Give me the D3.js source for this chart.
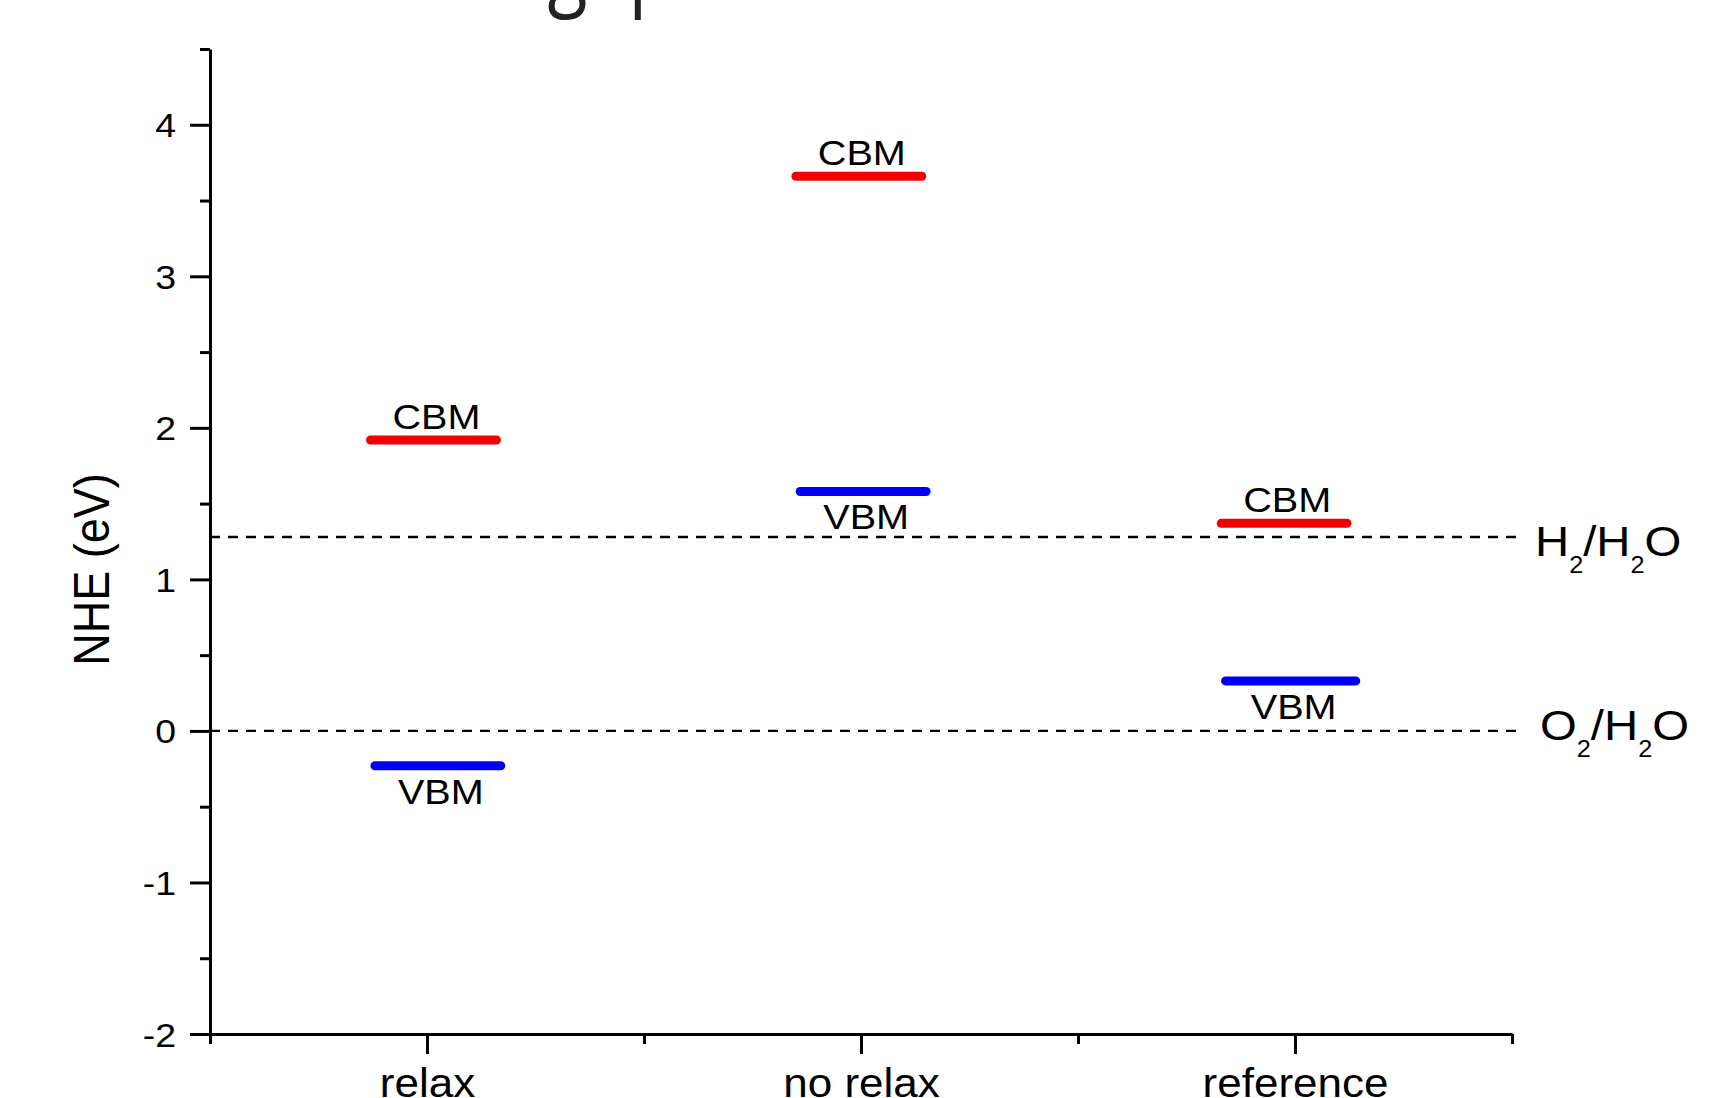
<!DOCTYPE html>
<html>
<head>
<meta charset="utf-8">
<script src="https://cdn.jsdelivr.net/npm/d3@7"></script>
<style>
  html, body { margin: 0; padding: 0; background: #fff; }
  svg { display: block; }
  text { font-family: "Liberation Sans", Arial, sans-serif; fill: #000; }
</style>
</head>
<body>
<svg id="chart" width="1718" height="1098"></svg>
<script>
// Band-edge positions (eV vs NHE) for each structure
const categories = ["relax", "no relax", "reference"];
const cbmValues = [1.92, 3.66, 1.37];
const vbmValues = [-0.23, 1.58, 0.33];
// horizontal extent of each level, in category-axis units
const cbmSpans = [[0.37, 0.66], [1.35, 1.64], [2.33, 2.62]];
const vbmSpans = [[0.38, 0.67], [1.36, 1.65], [2.34, 2.64]];
// water redox potentials
const redoxNames = [["H", "2", "/H", "2", "O"], ["O", "2", "/H", "2", "O"]];
const redoxValues = [1.28, 0];
// axis ticks
const yMajorTicks = [-2, -1, 0, 1, 2, 3, 4];
const yMinorTicks = [-1.5, -0.5, 0.5, 1.5, 2.5, 3.5, 4.5];
const xMajorTicks = [0.5, 1.5, 2.5];
const xMinorTicks = [0, 1, 2, 3];

const svg = d3.select("#chart");
const SX = 1.1; // slight horizontal stretch of all lettering

const x = d3.scaleLinear().domain([0, 3]).range([210, 1512]);
const y = d3.scaleLinear().domain([-2, 4.5]).range([1034, 49]);

function stretchText(sel, tx, ty, extra) {
  sel.attr("x", 0).attr("y", 0).attr("dy", null)
     .attr("transform", `translate(${tx},${ty}) scale(${SX},1)` + (extra || ""));
}

// page title (runs off the top edge)
svg.append("text")
  .attr("transform", "translate(-25,-2) scale(0.8,1)")
  .style("font-family", "'Open Sans', sans-serif")
  .style("font-size", "92px")
  .style("fill", "#222")
  .text("Calculated band gap");

// y axis
const yAxisMinor = svg.append("g").attr("transform", `translate(${x(0)},0)`)
  .call(d3.axisLeft(y).tickValues(yMinorTicks).tickSize(10).tickSizeOuter(0).tickFormat(""));
yAxisMinor.select(".domain").remove();

const yAxis = svg.append("g").attr("transform", `translate(${x(0)},0)`)
  .call(d3.axisLeft(y).tickValues(yMajorTicks).tickSize(20).tickSizeOuter(0).tickFormat(d => String(d)));
yAxis.selectAll(".tick text")
  .attr("text-anchor", "end")
  .style("font-size", "34px")
  .each(function() {
    stretchText(d3.select(this), -34, 12);
  });

// x axis
const xAxisMinor = svg.append("g").attr("transform", `translate(0,${y(-2)})`)
  .call(d3.axisBottom(x).tickValues(xMinorTicks).tickSize(10).tickSizeOuter(0).tickFormat(""));
xAxisMinor.select(".domain").remove();

const xAxis = svg.append("g").attr("transform", `translate(0,${y(-2)})`)
  .call(d3.axisBottom(x).tickValues(xMajorTicks).tickSize(20).tickSizeOuter(0)
    .tickFormat((d, i) => categories[i]));
xAxis.selectAll(".tick text")
  .attr("text-anchor", "middle")
  .style("font-size", "40px")
  .each(function() {
    stretchText(d3.select(this), 0, 63);
  });

svg.selectAll(".domain, .tick line")
  .attr("stroke", "#000")
  .attr("stroke-width", 3);

// y axis title
svg.append("text")
  .attr("text-anchor", "middle")
  .style("font-size", "45px")
  .text("NHE (eV)")
  .call(stretchText, 109, y(1.25) + 28, " rotate(-90)");

// redox reference lines
const redox = svg.append("g");
redoxValues.forEach((v, i) => {
  redox.append("line")
    .attr("x1", x(0)).attr("x2", 1522)
    .attr("y1", y(v)).attr("y2", y(v))
    .attr("stroke", "#000")
    .attr("stroke-width", 2.4)
    .attr("stroke-dasharray", "10,8");
  const t = redox.append("text").style("font-size", "43px");
  stretchText(t, i === 0 ? 1535 : 1540, y(v) + (i === 0 ? 19 : 9));
  let shift = 0;
  redoxNames[i].forEach((part, k) => {
    const sub = k % 2 === 1;
    const span = t.append("tspan").text(part);
    if (sub) {
      span.style("font-size", "23px").attr("dy", 17);
      shift = 17;
    } else if (shift) {
      span.attr("dy", -shift);
      shift = 0;
    }
  });
});

// band-edge levels
const levels = [];
categories.forEach((c, i) => {
  levels.push({ kind: "CBM", value: cbmValues[i], span: cbmSpans[i], color: "#f00000" });
  levels.push({ kind: "VBM", value: vbmValues[i], span: vbmSpans[i], color: "#0000f0" });
});

const lv = svg.append("g").selectAll("g").data(levels).join("g");
lv.append("line")
  .attr("x1", d => x(d.span[0])).attr("x2", d => x(d.span[1]))
  .attr("y1", d => y(d.value)).attr("y2", d => y(d.value))
  .attr("stroke", d => d.color)
  .attr("stroke-width", 9)
  .attr("stroke-linecap", "round");
lv.append("text")
  .attr("text-anchor", "middle")
  .style("font-size", "36px")
  .text(d => d.kind)
  .each(function(d) {
    const cx = x((d.span[0] + d.span[1]) / 2) + 3;
    const cy = d.kind === "CBM" ? y(d.value) - 11 : y(d.value) + 38;
    stretchText(d3.select(this), cx, cy);
  });
</script>
</body>
</html>
